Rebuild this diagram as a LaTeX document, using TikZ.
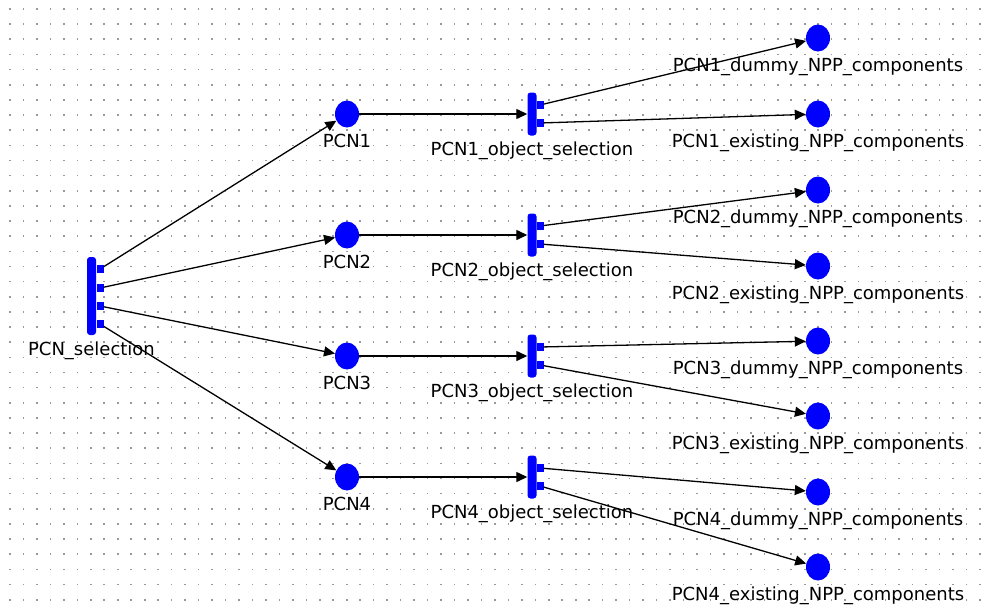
\documentclass[tikz,border=0pt]{standalone}
\usepackage{fontspec}
\setmainfont{DejaVu Sans}
\usetikzlibrary{arrows.meta,shapes.geometric}
\tikzset{
  place/.style={ellipse, fill=blue, minimum width=24pt, minimum height=27pt, inner sep=0pt},
  trans/.style={rectangle, fill=blue, rounded corners=3pt, minimum width=9pt, inner sep=0pt},
  port/.style={rectangle, fill=blue, minimum width=7pt, minimum height=8pt, inner sep=0pt},
  lbl/.style={font=\fontsize{18}{20}\selectfont, text height=13pt, text depth=4pt, inner sep=0pt},
  arc/.style={black, line width=1.3pt, -{Triangle[length=11pt,width=10pt]}},
  every label/.style={lbl}
}

\begin{document}
\begin{tikzpicture}[x=1pt, y=-1pt, label distance=7pt]

\fill[white] (0,0) rectangle (986,614);
\useasboundingbox (0,0) rectangle (986,614);

%%%%%
%% grid
%%%%%
\foreach \i in {0,...,72}
  \foreach \j in {0,...,39}
    \fill[black!40] ({9.2+13.47*\i},{8.2+15.146*\j}) rectangle +(1.6,1.6);

%%%%%
%% PCN selection
%%%%%
\node[trans, minimum height=78pt, label=below:PCN\_selection] (sel) at (91.5,296) {};
\node[port] (sel1) at (100,269) {};
\node[port] (sel2) at (100,288) {};
\node[port] (sel3) at (100,306) {};
\node[port] (sel4) at (100,324) {};

%%%%%
%% PCNs and object selections
%%%%%
\foreach \n/\y in {1/114,2/235,3/356,4/477}{
  \node[place, label=below:PCN\n] (pcn\n) at (347,\y) {};
  \node[trans, minimum height=43pt, label=below:PCN\n\_object\_selection] (obj\n) at (532,\y) {};
  \node[port] (obj\n a) at (540,\y-9) {};
  \node[port] (obj\n b) at (540,\y+9) {};
  \draw[arc] (sel\n) -- (pcn\n);
  \draw[arc] (pcn\n) -- (obj\n);
}

%%%%%
%% components
%%%%%
\foreach \n/\ya/\yb in {1/38/114,2/190/266,3/341/416,4/492/567}{
  \node[place, label=below:PCN\n\_dummy\_NPP\_components] (dum\n) at (818,\ya) {};
  \node[place, label=below:PCN\n\_existing\_NPP\_components] (ex\n) at (818,\yb) {};
  \draw[arc] (obj\n a) -- (dum\n);
  \draw[arc] (obj\n b) -- (ex\n);
}

\end{tikzpicture}
\end{document}
